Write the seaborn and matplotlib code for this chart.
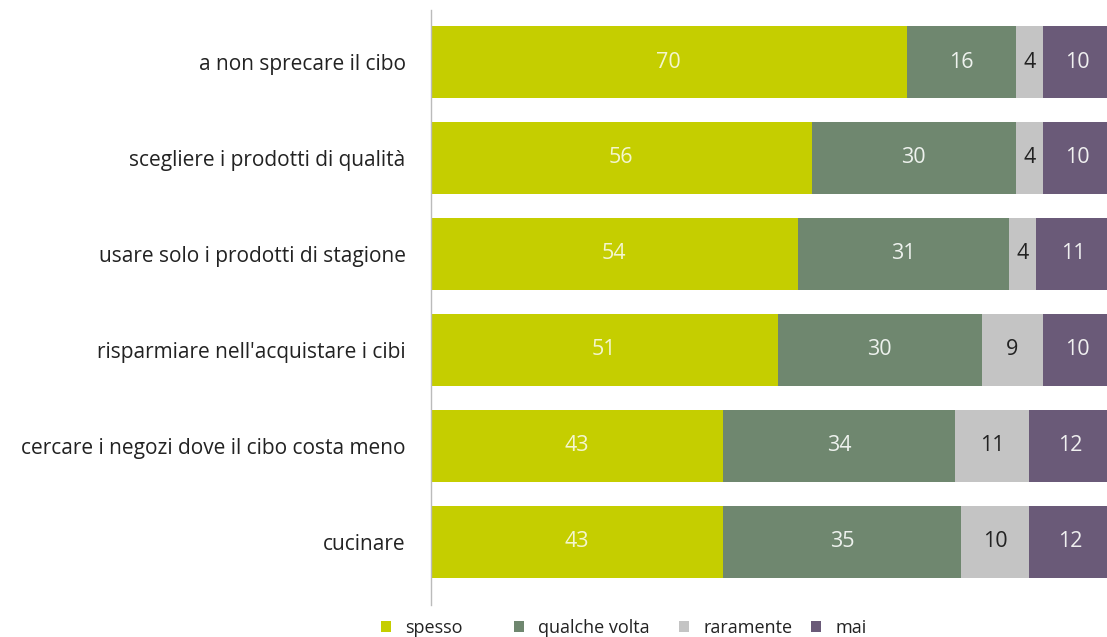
import matplotlib
matplotlib.use("Agg")
import matplotlib.pyplot as plt
import seaborn as sns
import numpy as np
import pandas as pd
from matplotlib.patches import Patch

categories = [
    "a non sprecare il cibo",
    "scegliere i prodotti di qualità",
    "usare solo i prodotti di stagione",
    "risparmiare nell'acquistare i cibi",
    "cercare i negozi dove il cibo costa meno",
    "cucinare",
]
series_names = ["spesso", "qualche volta", "raramente", "mai"]
spesso = [70, 56, 54, 51, 43, 43]
qualche_volta = [16, 30, 31, 30, 34, 35]
raramente = [4, 4, 4, 9, 11, 10]
mai = [10, 10, 11, 10, 12, 12]

colors = ["#C5CE00", "#6F876F", "#C4C4C4", "#6A5A78"]
text_colors = ["#F4F6D0", "#EEF2EE", "#222222", "#F0F0F0"]

sns.set_style("white")
plt.rcParams["font.family"] = ["Open Sans", "DejaVu Sans"]

values = np.array([spesso, qualche_volta, raramente, mai], dtype=float)
cum = np.cumsum(values, axis=0)

fig = plt.figure(figsize=(11.07, 6.37), dpi=100)
ax = fig.add_axes([0.389, 0.05, 0.611, 0.934])

# draw from the cumulative total downwards so each layer overlays
for i in range(3, -1, -1):
    df = pd.DataFrame({"cat": categories, "val": cum[i]})
    sns.barplot(data=df, x="val", y="cat", orient="h", color=colors[i],
                width=0.75, saturation=1, ax=ax, linewidth=0)

for i in range(4):
    for j in range(len(categories)):
        v = values[i, j]
        center = cum[i, j] - v / 2
        ax.text(center, j, f"{int(v)}", ha="center", va="center",
                fontsize=15.5, color=text_colors[i])

ax.set_xlim(0, 99.4)
ax.set_ylim(5.66, -0.54)
ax.set_xlabel("")
ax.set_ylabel("")
ax.set_xticks([])
ax.tick_params(axis="y", length=0, pad=18, labelsize=15, labelcolor="#222222")
for s in ["top", "right", "bottom"]:
    ax.spines[s].set_visible(False)
ax.spines["left"].set_color("#BBBBBB")
ax.spines["left"].set_linewidth(1)

# legend entries placed at the reference positions
legend_x = [381, 514, 679, 811]
for name, c, lx in zip(series_names, colors, legend_x):
    fig.legend([Patch(facecolor=c, edgecolor="none")], [name], loc="center left",
               bbox_to_anchor=(lx / 1107, 0.014), frameon=False, fontsize=13,
               handlelength=0.55, handleheight=0.55, handletextpad=0.8,
               borderpad=0, borderaxespad=0, labelcolor="#222222")

fig.savefig("out.png", dpi=100)
